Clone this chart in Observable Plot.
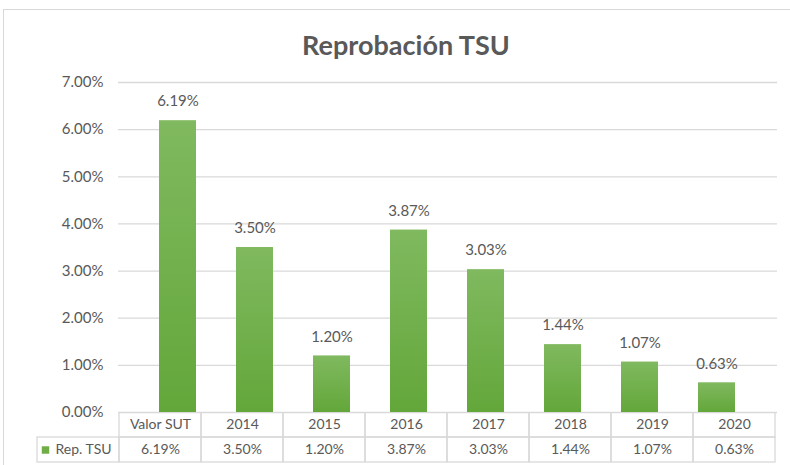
<!DOCTYPE html>
<html>
<head>
<meta charset="utf-8">
<script src="https://cdn.jsdelivr.net/npm/d3@7"></script>
<script src="https://cdn.jsdelivr.net/npm/@observablehq/plot@0.6"></script>
<style>
  html, body { margin: 0; padding: 0; background: #fff; }
  #wrap { position: relative; width: 790px; height: 465px; overflow: hidden; font-family: Lato, "Open Sans", sans-serif; }
  #frame { position: absolute; left: 3px; top: 9px; width: 800px; height: 470px; border-left: 1.5px solid #d9d9d9; border-top: 1.5px solid #d9d9d9; box-sizing: border-box; }
  #title { position: absolute; left: 0; top: 28px; width: 812px; text-align: center; font-family: Lato, sans-serif; font-weight: bold; font-size: 27px; color: #595959; }
  #chart svg, #table svg { display: block; }
  #chart { position: absolute; left: 0; top: 0; }
  #table { position: absolute; left: 0; top: 413px; }
</style>
</head>
<body>
<div id="wrap">
  <div id="frame"></div>
  <div id="chart"></div>
  <div id="table"></div>
  <div id="title">Reprobación TSU</div>
</div>
<script>
const categories = ["Valor SUT", "2014", "2015", "2016", "2017", "2018", "2019", "2020"];
const values = [0.0619, 0.0350, 0.0120, 0.0387, 0.0303, 0.0144, 0.0107, 0.0063];
const yTicks = [0, 0.01, 0.02, 0.03, 0.04, 0.05, 0.06, 0.07];
const seriesName = "Rep. TSU";

const data = categories.map((c, i) => ({cat: c, value: values[i]}));
const fmt = d3.format(".2%");
const textColor = "#595959";
const grid = "#d9d9d9";

const chart = Plot.plot({
  width: 790,
  height: 465,
  marginLeft: 118,
  marginRight: 13,
  marginTop: 82,
  marginBottom: 53,
  style: {fontFamily: "Lato, sans-serif", fontSize: "15px", color: textColor, background: "transparent"},
  x: {domain: categories, padding: 0.515, axis: null},
  y: {domain: [0, 0.07], ticks: yTicks, tickFormat: fmt, tickSize: 0, tickPadding: 15, label: null},
  marks: [
    Plot.ruleY(yTicks, {stroke: grid, strokeWidth: 1.3}),
    Plot.barY(data, {x: "cat", y: "value", fill: "url(#barGrad)", style: "filter: drop-shadow(0.5px 0.5px 1px rgba(0,0,0,0.25))"}),
    Plot.text(data, {x: "cat", y: "value", text: d => fmt(d.value), dy: -19, fill: textColor, fontSize: 15})
  ]
});
const defs = d3.select(chart).insert("defs", ":first-child");
const g = defs.append("linearGradient").attr("id", "barGrad").attr("x1", 0).attr("y1", 0).attr("x2", 0).attr("y2", 1);
g.append("stop").attr("offset", "0%").attr("stop-color", "#80b95f");
g.append("stop").attr("offset", "100%").attr("stop-color", "#63a73a");
document.getElementById("chart").appendChild(chart);

// data table below the chart
const legendKey = "__legend";
const rows = ["head", "val"];
const cells = [];
for (const c of categories) { cells.push({col: c, row: "head"}); cells.push({col: c, row: "val"}); }
cells.push({col: legendKey, row: "val"});

const table = Plot.plot({
  width: 790,
  height: 52,
  marginLeft: 35,
  marginRight: 13,
  marginTop: 0,
  marginBottom: 0,
  style: {fontFamily: "Lato, sans-serif", fontSize: "14px", color: textColor, background: "transparent"},
  x: {domain: [legendKey, ...categories], padding: 0, axis: null},
  y: {domain: rows, range: [-1, 49], padding: 0, axis: null},
  marks: [
    Plot.cell(cells, {x: "col", y: "row", fill: "none", stroke: grid, strokeWidth: 1.3}),
    Plot.text(categories, {x: d => d, y: () => "head", text: d => d, fill: textColor}),
    Plot.text(data, {x: "cat", y: () => "val", text: d => fmt(d.value), fill: textColor}),
    Plot.text([seriesName], {x: () => legendKey, y: () => "val", text: d => d, dx: 5, fill: textColor}),
    Plot.dot([seriesName], {x: () => legendKey, y: () => "val", symbol: "square", r: 4.2, fill: "#70ad47", dx: -33})
  ]
});
document.getElementById("table").appendChild(table);
</script>
</body>
</html>
